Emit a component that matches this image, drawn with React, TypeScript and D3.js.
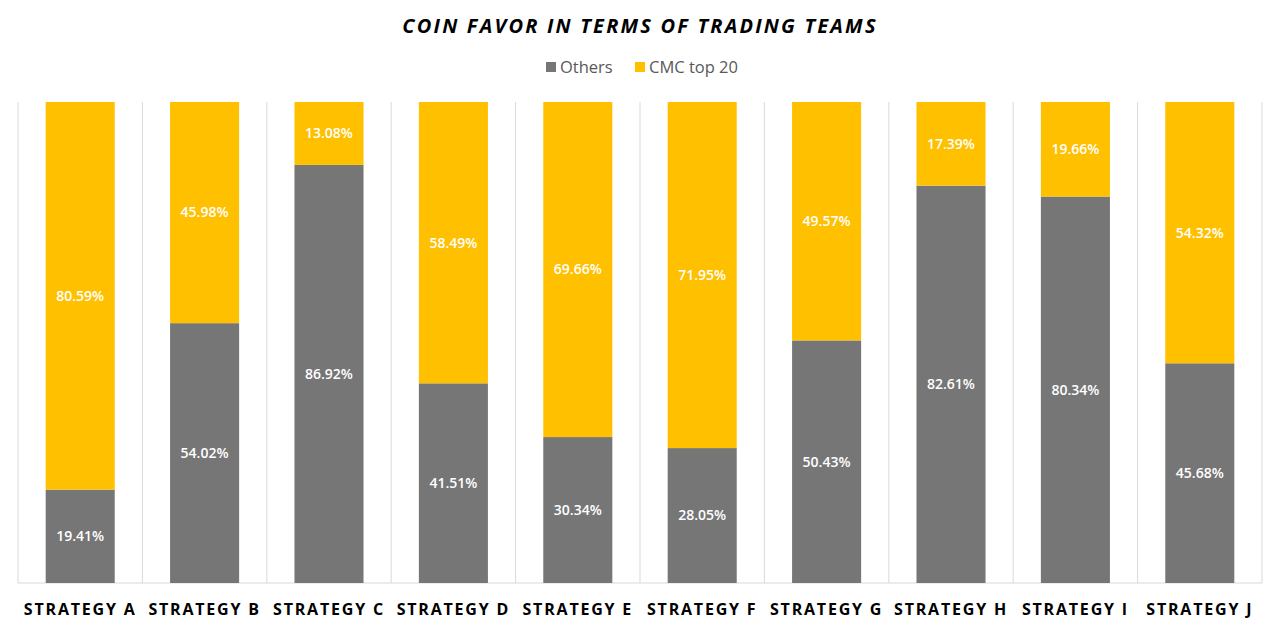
import {useEffect, useRef} from "react";
import * as d3 from "d3";

const categories = [
    "STRATEGY A", "STRATEGY B", "STRATEGY C", "STRATEGY D", "STRATEGY E",
    "STRATEGY F", "STRATEGY G", "STRATEGY H", "STRATEGY I", "STRATEGY J"
];
const others = [19.41, 54.02, 86.92, 41.51, 30.34, 28.05, 50.43, 82.61, 80.34, 45.68];
const cmcTop20 = [80.59, 45.98, 13.08, 58.49, 69.66, 71.95, 49.57, 17.39, 19.66, 54.32];
const seriesNames = ["Others", "CMC top 20"];
const seriesColors = ["#767676", "#FFC000"];

const App = () => {
    const svgRef = useRef<SVGSVGElement>(null);

    useEffect(() => {
        const left = 18, right = 1262, top = 102, bottom = 583;

        const svg = d3.select(svgRef.current);
        svg.selectAll("*").remove();

        const rows = categories.map((c, i) => ({name: c, Others: others[i], "CMC top 20": cmcTop20[i]}));
        const stacked = d3.stack<any>().keys(seriesNames)(rows);

        const x = d3.scaleBand().domain(categories).range([left, right]);
        const y = d3.scaleLinear().domain([0, 100]).range([bottom, top]);
        const barW = x.bandwidth() * 0.555;
        const barOff = (x.bandwidth() - barW) / 2;

        // category separators
        svg.append("g")
            .selectAll("line")
            .data(d3.range(categories.length + 1))
            .join("line")
            .attr("x1", i => left + i * x.step())
            .attr("x2", i => left + i * x.step())
            .attr("y1", top)
            .attr("y2", bottom)
            .attr("stroke", "#d9d9d9")
            .attr("stroke-width", 1);

        svg.append("line")
            .attr("x1", left).attr("x2", right)
            .attr("y1", bottom).attr("y2", bottom)
            .attr("stroke", "#d9d9d9");

        const groups = svg.append("g")
            .selectAll("g")
            .data(stacked)
            .join("g")
            .attr("fill", (_, i) => seriesColors[i]);

        groups.selectAll("rect")
            .data(d => d)
            .join("rect")
            .attr("x", d => x(d.data.name)! + barOff)
            .attr("width", barW)
            .attr("y", d => y(d[1]))
            .attr("height", d => y(d[0]) - y(d[1]));

        groups.selectAll("text")
            .data(d => d)
            .join("text")
            .attr("x", d => x(d.data.name)! + x.bandwidth() / 2)
            .attr("y", d => (y(d[0]) + y(d[1])) / 2)
            .attr("dy", "0.35em")
            .attr("text-anchor", "middle")
            .attr("fill", "#ffffff")
            .attr("font-family", "'Open Sans', sans-serif")
            .attr("font-size", 14)
            .attr("font-weight", 600)
            .text(d => `${(d[1] - d[0]).toFixed(2)}%`);

        // category labels
        svg.append("g")
            .selectAll("text")
            .data(categories)
            .join("text")
            .attr("x", d => x(d)! + x.bandwidth() / 2)
            .attr("y", 615)
            .attr("text-anchor", "middle")
            .attr("font-family", "'Open Sans', sans-serif")
            .attr("font-size", 16)
            .attr("font-weight", 700)
            .attr("letter-spacing", 1.8)
            .attr("fill", "#000")
            .text(d => d);

        // title
        svg.append("text")
            .attr("x", 640)
            .attr("y", 33)
            .attr("text-anchor", "middle")
            .attr("font-family", "'Open Sans', sans-serif")
            .attr("font-size", 20)
            .attr("font-weight", 700)
            .attr("font-style", "italic")
            .attr("letter-spacing", 2.2)
            .attr("fill", "#000")
            .text("COIN FAVOR IN TERMS OF TRADING TEAMS");

        // legend
        const legendX = [546, 635];
        const legend = svg.append("g")
            .selectAll("g")
            .data(seriesNames)
            .join("g")
            .attr("transform", (_, i) => `translate(${legendX[i]},62)`);
        legend.append("rect")
            .attr("width", 10).attr("height", 10)
            .attr("fill", (_, i) => seriesColors[i]);
        legend.append("text")
            .attr("x", 14)
            .attr("y", 5)
            .attr("dy", "0.35em")
            .attr("font-family", "'Open Sans', sans-serif")
            .attr("font-size", 16.5)
            .attr("fill", "#595959")
            .text(d => d);
    }, []);

    return (
        <svg ref={svgRef} width={1280} height={631}
             style={{position: "absolute", left: 0, top: 0, background: "#fff"}} />
    );
};

export default App;
